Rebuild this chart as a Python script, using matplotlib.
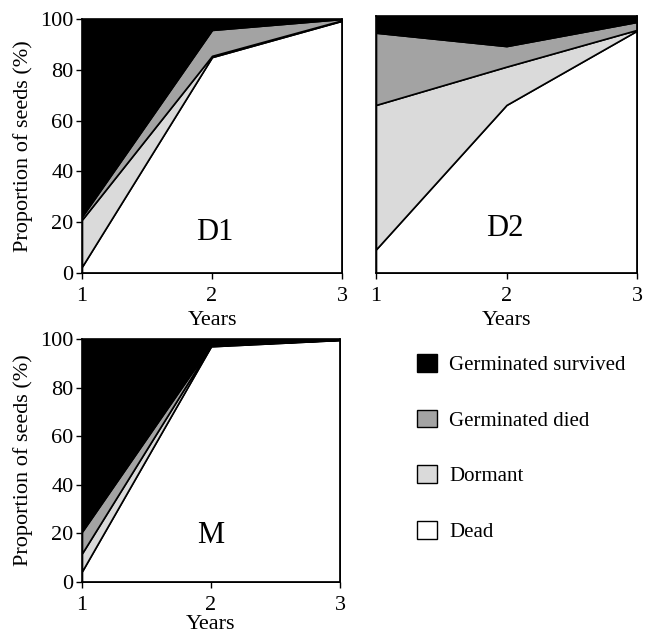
import numpy as np
import matplotlib.pyplot as plt
from matplotlib.patches import Patch

plt.rcParams['font.family'] = ['Liberation Serif', 'DejaVu Serif']

years = [1, 2, 3]
categories = ['Dead', 'Dormant', 'Germinated died', 'Germinated survived']
colours = ['white', '#dadada', '#a3a3a3', 'black']

# percentage of seeds in each class, per year
d1_dead = [2.5, 85.0, 99.3]
d1_dormant = [18.5, 0.5, 0.2]
d1_died = [1.2, 10.2, 0.5]
d1_survived = [77.8, 4.3, 0.0]

d2_dead = [9.2, 65.4, 94.3]
d2_dormant = [56.2, 14.9, 0.3]
d2_died = [28.1, 8.0, 3.1]
d2_survived = [6.5, 11.7, 2.3]

m_dead = [4.4, 97.0, 99.6]
m_dormant = [7.4, 0.3, 0.1]
m_died = [8.9, 0.3, 0.1]
m_survived = [79.3, 2.4, 0.2]

W, H = 647, 635
fig = plt.figure(figsize=(W / 100, H / 100), dpi=100)


def box(l, t, r, b):
    return [l / W, 1 - b / H, (r - l) / W, (b - t) / H]


def panel(rect, layers, name, name_xy, ylabels=True, xpad=4):
    ax = fig.add_axes(rect)
    ax.stackplot(years, *layers, colors=colours, edgecolor='black', linewidth=1.2)
    ax.set_xlim(1, 3)
    ax.set_ylim(0, 100)
    ax.set_xticks(years)
    ax.set_yticks(range(0, 101, 20))
    ax.tick_params(direction='out', length=4, width=1, labelsize=16)
    ax.tick_params(axis='x', pad=6)
    ax.tick_params(axis='y', pad=2)
    if ylabels:
        ax.set_ylabel('Proportion of seeds (%)', fontsize=16, labelpad=5)
    else:
        ax.set_yticklabels([])
        ax.tick_params(axis='y', length=0)
    ax.set_xlabel('Years', fontsize=16, labelpad=xpad)
    for s in ax.spines.values():
        s.set_linewidth(1.2)
    ax.text(name_xy[0], name_xy[1], name, fontsize=22, ha='center', va='center')
    return ax


panel(box(82, 19, 342, 273), [d1_dead, d1_dormant, d1_died, d1_survived], 'D1', (2.02, 16))
panel(box(376, 16, 637, 273), [d2_dead, d2_dormant, d2_died, d2_survived], 'D2', (1.99, 17.5),
      ylabels=False)
panel(box(82, 339, 340, 582), [m_dead, m_dormant, m_died, m_survived], 'M', (2.0, 19),
      xpad=0)

handles = [Patch(facecolor=c, edgecolor='black', linewidth=1) for c in colours[::-1]]
fig.legend(handles, categories[::-1], loc='upper left',
           bbox_to_anchor=(417 / W, 1 - 354 / H), frameon=False, fontsize=15,
           handlelength=0.95, handleheight=0.95, handletextpad=0.6,
           labelspacing=1.65, borderpad=0, borderaxespad=0)

plt.savefig('out.png', dpi=100)
